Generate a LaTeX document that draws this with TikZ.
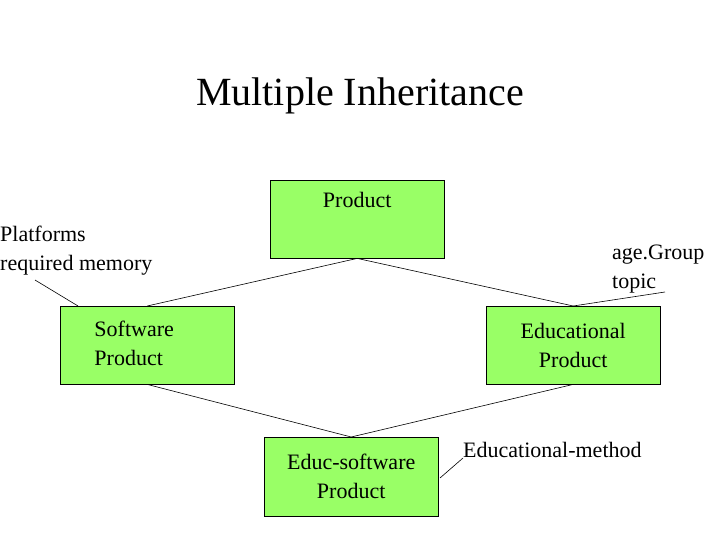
\documentclass[tikz,border=0pt]{standalone}
\usepackage{fontspec}
\setmainfont{Liberation Serif}
\usetikzlibrary{positioning}
\definecolor{classgreen}{RGB}{153,255,102}
\tikzset{
  classbox/.style={draw, fill=classgreen, minimum width=174pt, minimum height=78pt,
    font=\fontsize{22}{29}\selectfont, align=center, inner sep=0pt},
  attrtext/.style={font=\fontsize{22}{29}\selectfont, align=left, inner sep=0pt},
  link/.style={draw, line width=0.6pt}
}
\begin{document}
\begin{tikzpicture}[x=1pt, y=-1pt]
  \useasboundingbox (0,0) rectangle (720,540);
  \node[font=\fontsize{40}{48}\selectfont] (title) at (360,96) {Multiple Inheritance};

  % Classes
  \node[classbox, anchor=north west, text depth=38pt] (product) at (270,180) {Product};
  \node[classbox, anchor=north west] (software) at (60,306) {\hspace*{-26pt}\begin{tabular}{@{}l@{}}Software\\Product\end{tabular}};
  \node[classbox, anchor=north west] (educ) at (486,306) {Educational\\Product};
  \node[classbox, anchor=north west, minimum height=79pt] (educsoft) at (264,437) {Educ-software\\Product};

  % Attributes
  \node[attrtext, anchor=north west] (platforms) at (0,226) {Platforms\\required memory};
  \node[attrtext, anchor=north west] (agegroup) at (612,245) {age.Group\\topic};
  \node[attrtext, anchor=north west] (method) at (463,442) {Educational-method};

  \coordinate (platfoot) at (35,280);
  \coordinate (softcorner) at (78,306);
  \coordinate (agefoot) at (665,292);
  \coordinate (methfoot) at (463,458);
  \coordinate (educsoftside) at (440,478);

  % Inheritance links
  \draw[link] (product.south) -- (software.north);
  \draw[link] (product.south) -- (educ.north);
  \draw[link] (software.south) -- (educsoft.north);
  \draw[link] (educ.south) -- (educsoft.north);

  % Attribute links
  \draw[link] (platfoot) -- (softcorner);
  \draw[link] (educ.north) -- (agefoot);
  \draw[link] (educsoftside) -- (methfoot);
\end{tikzpicture}
\end{document}
